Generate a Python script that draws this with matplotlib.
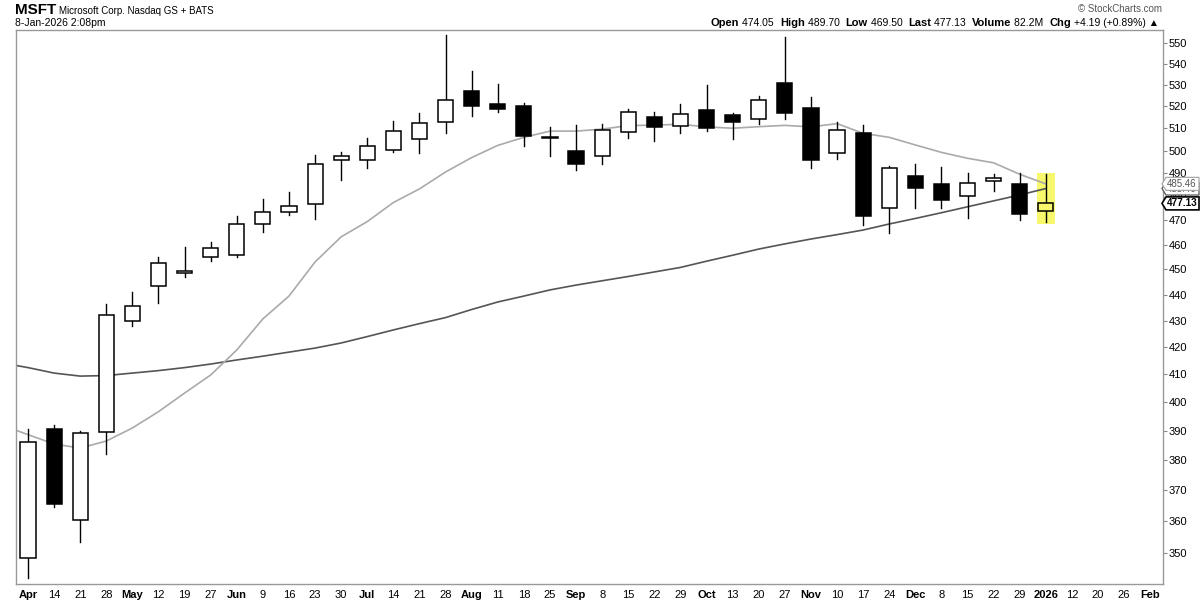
import matplotlib
matplotlib.use("Agg")
import matplotlib.pyplot as plt
from matplotlib.patches import Rectangle, Polygon
from matplotlib.ticker import FixedLocator, NullLocator, FixedFormatter
from matplotlib.transforms import IdentityTransform

plt.rcParams['font.family'] = ['Liberation Sans', 'DejaVu Sans']

# weekly candles, Apr 2025 -> Jan 2026
opens = [348.4, 390.7, 360.4, 389.6, 430.0, 443.6, 448.6, 454.8, 455.7, 468.3,
         473.7, 476.7, 495.7, 495.7, 500.1, 505.0, 512.7, 527.0, 520.9, 520.0,
         505.8, 499.6, 497.4, 508.1, 514.9, 510.9, 518.2, 516.0, 514.0, 530.7,
         519.2, 499.1, 507.7, 475.0, 488.8, 485.3, 480.2, 486.6, 485.3, 474.05]
highs = [390.7, 392.2, 389.8, 436.6, 441.0, 454.8, 459.0, 461.0, 471.7, 478.8,
         481.8, 498.1, 499.3, 505.5, 513.2, 516.9, 553.9, 536.5, 530.6, 521.4,
         510.4, 511.4, 511.7, 518.7, 517.3, 521.1, 529.8, 516.9, 524.6, 552.9,
         524.2, 512.6, 511.4, 493.0, 494.0, 492.6, 490.1, 489.6, 490.1, 489.70]
lows = [342.4, 364.4, 353.3, 382.1, 428.0, 436.8, 447.0, 453.2, 455.0, 465.2,
        472.3, 470.6, 487.3, 492.5, 499.4, 499.0, 507.9, 515.6, 517.5, 501.9,
        497.6, 491.6, 494.1, 505.4, 504.3, 507.9, 508.9, 505.2, 512.0, 514.3,
        492.5, 496.2, 467.9, 464.6, 475.3, 475.3, 470.8, 482.6, 470.0, 469.50]
closes = [386.2, 365.4, 389.3, 432.3, 435.8, 452.7, 449.4, 458.6, 468.7, 473.3,
          476.0, 494.3, 497.4, 501.9, 508.6, 512.2, 522.8, 520.2, 518.6, 506.6,
          506.0, 494.1, 509.0, 517.2, 510.7, 516.7, 510.2, 513.0, 523.1, 517.0,
          495.9, 509.4, 471.8, 492.3, 483.6, 478.7, 486.0, 487.9, 472.7, 477.13]

# moving averages, first value is the week before the first candle
ma_slow = [414.2, 412.5, 410.5, 409.4, 409.6, 410.5, 411.4, 412.5, 413.8, 415.3,
           416.7, 418.2, 419.7, 421.6, 424.0, 426.5, 428.9, 431.2, 434.3, 437.2,
           439.5, 441.9, 443.8, 445.5, 447.2, 449.0, 450.8, 453.3, 455.7, 458.2,
           460.3, 462.3, 464.1, 466.0, 468.5, 470.8, 473.2, 475.7, 478.2, 480.7, 483.46]
ma_fast = [392.0, 388.7, 385.5, 384.1, 386.5, 391.0, 396.7, 403.3, 409.8, 419.0,
           430.7, 439.5, 453.0, 463.2, 469.5, 477.5, 483.3, 490.6, 496.9, 502.3,
           505.9, 508.7, 508.7, 509.6, 511.2, 511.4, 511.8, 510.6, 510.0, 510.7,
           511.3, 510.6, 512.1, 507.7, 505.9, 502.5, 499.2, 496.6, 494.6, 489.6, 485.46]

week_labels = ["Apr", "14", "21", "28", "May", "12", "19", "27", "Jun", "9", "16",
               "23", "30", "Jul", "14", "21", "28", "Aug", "11", "18", "25", "Sep",
               "8", "15", "22", "29", "Oct", "13", "20", "27", "Nov", "10", "17",
               "24", "Dec", "8", "15", "22", "29", "2026", "12", "20", "26", "Feb"]
bold_labels = {"Apr", "May", "Jun", "Jul", "Aug", "Sep", "Oct", "Nov", "Dec", "2026", "Feb"}
price_ticks = list(range(350, 551, 10))

fig = plt.figure(figsize=(12, 6), dpi=100)
ax = fig.add_axes([16 / 1200, 16 / 600, 1147 / 1200, 554 / 600])
ax.set_yscale('log')

# highlight of current week
n = len(opens)
ax.add_patch(Rectangle((n - 1 - 0.35, lows[-1] - 1.0), 0.7, highs[-1] - lows[-1] + 1.3,
                       facecolor='#f8f86c', edgecolor='none', zorder=1))

xs_ma = list(range(-1, n))
ax.plot(xs_ma, ma_slow, color='#555555', lw=1.2, zorder=2)
ax.plot(xs_ma, ma_fast, color='#aaaaaa', lw=1.2, zorder=2)

w = 0.58
for i in range(n):
    o, h, l, c = opens[i], highs[i], lows[i], closes[i]
    ax.plot([i, i], [l, h], color='black', lw=1, zorder=3)
    lo, hi = min(o, c), max(o, c)
    fc = 'white' if c >= o else 'black'
    if n - 1 == i:
        fc = '#f8f86c'
    ax.add_patch(Rectangle((i - w / 2, lo), w, hi - lo, facecolor=fc,
                           edgecolor='black', lw=1.1, zorder=4))

ax.set_xlim(-0.46, 43.49)
ax.set_ylim(340.5, 556.4)

ax.yaxis.tick_right()
ax.yaxis.set_major_locator(FixedLocator(price_ticks))
ax.yaxis.set_major_formatter(FixedFormatter([str(v) for v in price_ticks]))
ax.yaxis.set_minor_locator(NullLocator())
ax.tick_params(axis='y', which='major', length=3, width=0.8, color='#888888',
               labelsize=8, pad=1, direction='out')

ax.set_xticks(range(len(week_labels)))
ax.set_xticklabels(week_labels)
ax.tick_params(axis='x', length=0, labelsize=8, pad=4)
for t in ax.get_xticklabels():
    if t.get_text() in bold_labels:
        t.set_fontweight('bold')

for s in ax.spines.values():
    s.set_color('#999999')
    s.set_linewidth(1)


# price tags on right axis, drawn in pixel space
def price_tag(value, edge, txt_color, bold, z):
    yp = ax.transData.transform((0, value))[1]
    x0, x1, hh = 1162, 1199, 6.5
    pts = [(x0, yp), (x0 + 4, yp + hh), (x1, yp + hh), (x1, yp - hh), (x0 + 4, yp - hh)]
    fig.patches.append(Polygon(pts, closed=True, transform=IdentityTransform(),
                               facecolor='white', edgecolor=edge, lw=1.2 if bold else 0.9,
                               zorder=z, figure=fig))
    fig.text(x0 + 4.5, yp, f"{value:.2f}", transform=IdentityTransform(),
             fontsize=7.2 if bold else 7, fontweight='bold' if bold else 'normal',
             color=txt_color, va='center', ha='left', zorder=z + 0.5)


price_tag(ma_slow[-1], '#555555', '#555555', False, 10)
price_tag(ma_fast[-1], '#aaaaaa', '#555555', False, 12)
price_tag(closes[-1], 'black', 'black', True, 14)

# header texts
renderer = fig.canvas.get_renderer()


def draw_pieces(x, y, pieces, right=False):
    objs = []
    for s, kw in pieces:
        objs.append(fig.text(0, 0, s, transform=IdentityTransform(), va='baseline', **kw))
    widths = [t.get_window_extent(renderer).width for t in objs]
    gap = 3
    total = sum(widths) + gap * (len(objs) - 1)
    cx = x - total if right else x
    for t, wd in zip(objs, widths):
        t.set_position((cx, y))
        cx += wd + gap


draw_pieces(15, 586, [("MSFT", dict(fontsize=11, fontweight='bold')),
                      ("Microsoft Corp. Nasdaq GS + BATS", dict(fontsize=7))])
fig.text(15, 574, "8-Jan-2026 2:08pm", transform=IdentityTransform(), fontsize=7.5,
         va='baseline')
fig.text(1162, 588, "© StockCharts.com", transform=IdentityTransform(), fontsize=7,
         va='baseline', ha='right', color='#555555')

hdr = []
for lab, val in [("Open", "474.05"), ("High", "489.70"), ("Low", "469.50"),
                 ("Last", "477.13"), ("Volume", "82.2M"), ("Chg", "+4.19 (+0.89%) ▲")]:
    hdr.append((lab, dict(fontsize=8, fontweight='bold')))
    hdr.append((val + " ", dict(fontsize=7.5)))
draw_pieces(1162, 574, hdr, right=True)

fig.savefig("out.png", dpi=100)
